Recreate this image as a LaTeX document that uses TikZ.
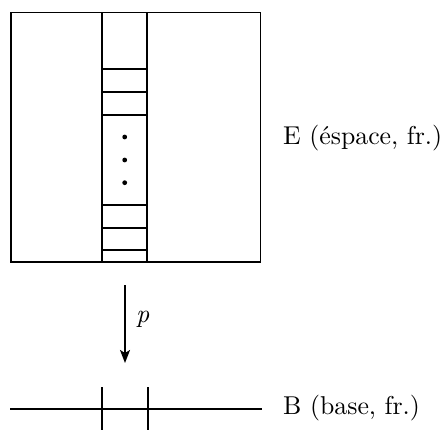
\documentclass[tikz,border=0pt]{standalone}
\usepackage{fontspec}
\setmainfont{lmroman10-regular}[Extension=.otf, ItalicFont=lmroman10-italic, BoldFont=lmroman10-bold]
\usetikzlibrary{arrows.meta}
\begin{document}
\begin{tikzpicture}[x=1pt,y=-1pt,
  thick line/.style={line width=1.8pt, line cap=rect},
  thin line/.style={line width=1.8pt},
  lbl/.style={anchor=base west, inner sep=0pt, font=\fontsize{25.8}{30}\selectfont},
  dotmark/.style={circle, fill=black, inner sep=0pt, minimum size=4.8pt}]
\useasboundingbox (0,0) rectangle (446,430);
% total space E
\draw[thick line] (11,12.5) rectangle (260.5,262);
% fibre strip
\draw[thick line] (102,12.5) -- (102,262) (147,12.5) -- (147,262);
\foreach \y in {69,91.7,115,205,228,250}
  \draw[thin line] (102,\y) -- (147,\y);
\node[dotmark] (d1) at (124.7,137) {};
\node[dotmark] (d2) at (124.7,160) {};
\node[dotmark] (d3) at (124.7,182.7) {};
\node[lbl] (E) at (283,145) {E (éspace, fr.)};
% projection
\coordinate (ptop) at (125,285);
\coordinate (pbot) at (125,363);
\draw[line width=1.6pt, -{Stealth[length=13pt,width=10pt,inset=3pt]}] (ptop) -- (pbot);
\node[lbl] (p) at (136,322) {\itshape p};
% base B
\coordinate (bl) at (10,409);
\coordinate (br) at (262,409);
\draw[thin line] (bl) -- (br);
\draw[thin line] (102,387) -- (102,430) (147.7,387) -- (147.7,430);
\node[lbl] (B) at (283,414) {B (base, fr.)};
\end{tikzpicture}
\end{document}
